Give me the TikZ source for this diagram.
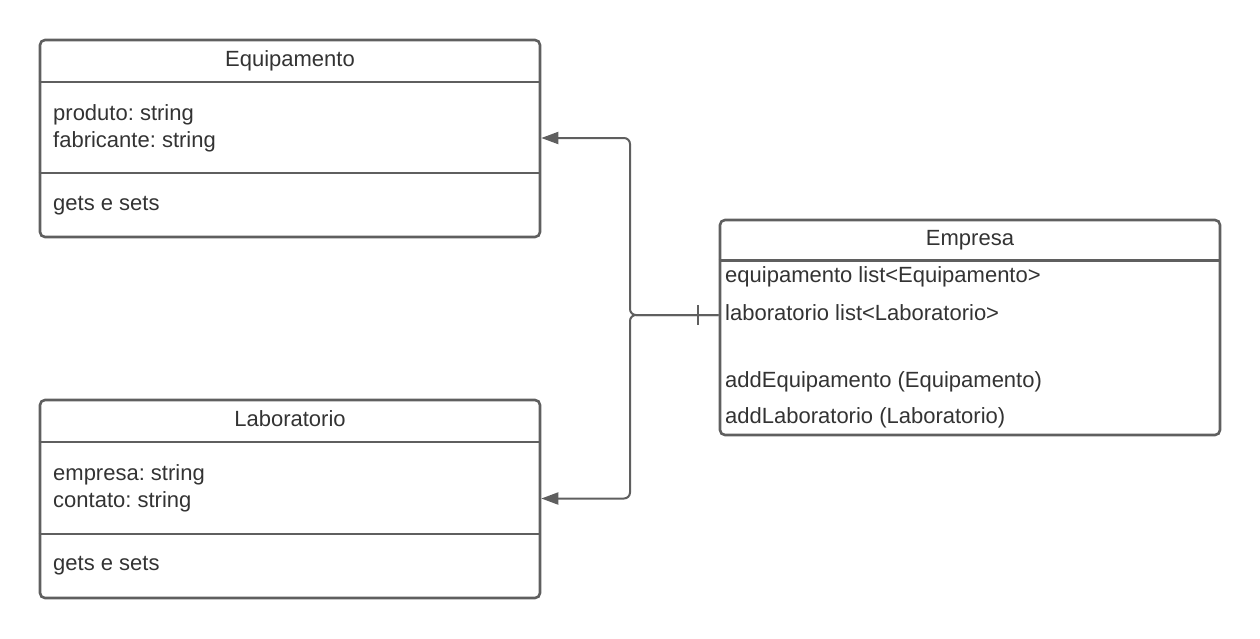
\documentclass[tikz,border=0pt]{standalone}
\usepackage{fontspec}
\setmainfont{Liberation Sans}
\usetikzlibrary{arrows.meta}
\definecolor{linegray}{HTML}{5F5F5F}
\definecolor{textgray}{HTML}{333333}
\frenchspacing
\begin{document}
\begin{tikzpicture}[x=1pt, y=-1pt, >={Triangle[length=17pt,width=12pt]},
    classbox/.style={draw=linegray, line width=2.6pt, rounded corners=5pt, minimum width=500pt, inner sep=0pt},
    member/.style={anchor=base west, inner sep=0pt, text=textgray, font=\fontsize{22}{26}\selectfont},
    title/.style={member, anchor=base},
    sep/.style={draw=linegray, line width=2.6pt},
    conn/.style={draw=linegray, line width=2pt, rounded corners=6pt}]
  \useasboundingbox (0,0) rectangle (1260,638);

  \node[classbox, minimum height=197pt] (equip) at (290,138.5) {};
  \node[title] (equiptitle) at (290,66) {Equipamento};
  \draw[sep] (equip.west |- 0,82) -- (equip.east |- 0,82);
  \node[member] (produto) at (53,120) {produto: string};
  \node[member] (fabricante) at (53,147) {fabricante: string};
  \draw[sep] (equip.west |- 0,173) -- (equip.east |- 0,173);
  \node[member] (equipops) at (53,210) {gets e sets};

  \node[classbox, minimum height=198pt] (lab) at (290,499) {};
  \node[title] (labtitle) at (290,426) {Laboratorio};
  \draw[sep] (lab.west |- 0,442) -- (lab.east |- 0,442);
  \node[member] (empresa) at (53,480) {empresa: string};
  \node[member] (contato) at (53,507) {contato: string};
  \draw[sep] (lab.west |- 0,534) -- (lab.east |- 0,534);
  \node[member] (labops) at (53,570) {gets e sets};

  \node[classbox, minimum height=215pt] (emp) at (970,327.5) {};
  \node[title] (emptitle) at (970,245) {Empresa};
  \draw[sep] (emp.west |- 0,260.5) -- (emp.east |- 0,260.5);
  \node[member] (eqlist) at (725,282) {equipamento list<Equipamento>};
  \node[member] (lablist) at (725,320) {laboratorio list<Laboratorio>};
  \node[member] (addeq) at (725,387) {addEquipamento (Equipamento)};
  \node[member] (addlab) at (725,423) {addLaboratorio (Laboratorio)};

  \coordinate (fork) at (630,315);
  \draw[conn, ->] (emp.west |- fork) -- (fork) |- (equip.east |- 0,138);
  \draw[conn, ->] (emp.west |- fork) -- (fork) |- (lab.east |- 0,498.5);
  \draw[conn] ([xshift=-21pt]emp.west |- fork) ++(0,-10) -- ++(0,20);
\end{tikzpicture}
\end{document}
